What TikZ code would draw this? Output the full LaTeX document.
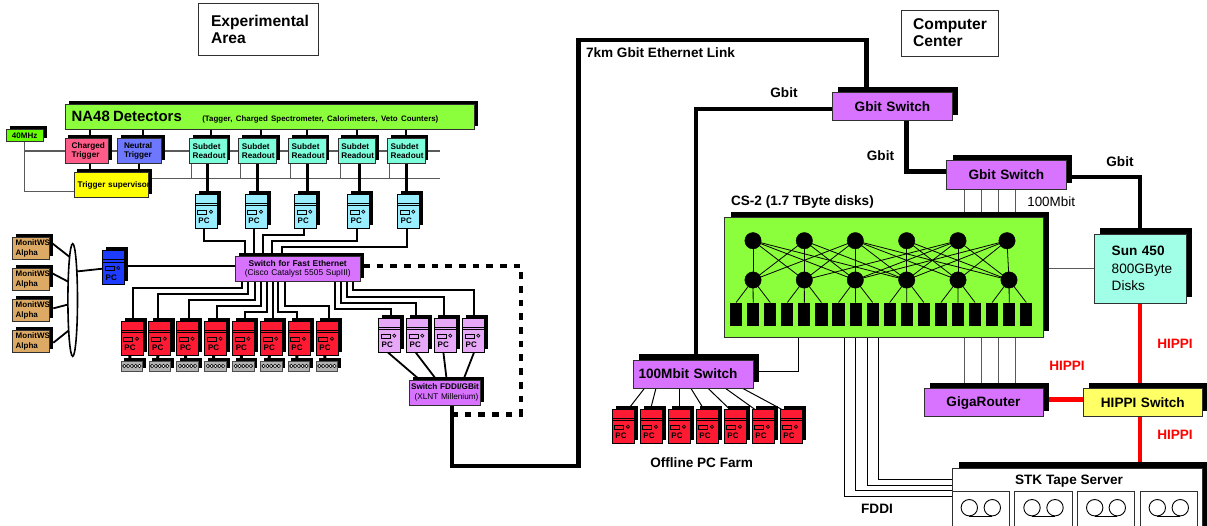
\documentclass[tikz,border=0pt]{standalone}
\usepackage{fontspec}
\setmainfont{Liberation Sans}
\usetikzlibrary{calc}
\pgfdeclarelayer{background}
\pgfsetlayers{background,main}
\definecolor{cpurple}{HTML}{D873FF}
\definecolor{cgreen}{HTML}{8CFF3C}
\definecolor{cgreenb}{HTML}{66FF00}
\definecolor{cpink}{HTML}{FF5C8A}
\definecolor{cblue}{HTML}{6E78FF}
\definecolor{cteal}{HTML}{7DFFDC}
\definecolor{csun}{HTML}{A0FFE6}
\definecolor{cyel}{HTML}{FFFF00}
\definecolor{chip}{HTML}{FFFF66}
\definecolor{ccyan}{HTML}{99EEFF}
\definecolor{cred}{HTML}{FF1A33}
\definecolor{cdblue}{HTML}{1E3CFF}
\definecolor{clil}{HTML}{E8A8F8}
\definecolor{ctan}{HTML}{DDAA66}
\definecolor{cline}{HTML}{303030}
\definecolor{cgrey}{HTML}{5A5A5A}
\newcommand\fz[3]{\fontsize{#1}{#2}\selectfont#3}
\newcommand\hs[1]{\hspace*{#1pt}}
\tikzset{
  x=1pt,y=-1pt,
  boxnode/.style={draw=cline,line width=.9pt,inner sep=0pt,outer sep=0pt,text=black},
  bigtext/.style={font=\fz{13.6}{15}\bfseries,align=center},
  smalltext/.style={font=\fz{8.2}{9.5}\bfseries,align=left},
  swtext/.style={font=\fz{8.4}{9.4}{},align=center},
  lbl/.style={inner sep=0pt,outer sep=0pt,font=\fz{13.6}{15}\bfseries},
  redlbl/.style={lbl,text=red},
  thicklink/.style={line width=4.5pt,black,line join=miter},
  redlink/.style={line width=4.4pt,red},
  medlink/.style={line width=1.8pt,black},
  thinlink/.style={line width=1pt,black},
  greylink/.style={line width=1pt,cgrey},
  busline/.style={line width=1.5pt,cgrey},
  tap/.style={line width=2pt,black},
  pctap/.style={line width=3pt,black},
  hubdot/.style={circle,fill=black,draw=black,inner sep=0pt,minimum size=16.4pt},
  diskbar/.style={rectangle,fill=black,inner sep=0pt,minimum width=12.2pt,minimum height=23.4pt},
  reel/.style={circle,draw=black,line width=.9pt,inner sep=0pt,minimum size=16.4pt},
}
% [options] name x1 y1 x2 y2 shadow text
\newcommand\bx[8][]{%
  \pgfmathsetmacro\bxw{#5-#3}\pgfmathsetmacro\bxh{#6-#4}%
  \pgfmathsetmacro\bxc{(#3+#5)/2}\pgfmathsetmacro\byc{(#4+#6)/2}%
  \fill[black] ({#3+#7},{#4-#7}) rectangle ({#5+#7},{#6-#7});%
  \node[boxnode,text width=\bxw pt,minimum height=\bxh pt,#1] (#2) at (\bxc,\byc) {#8};%
}
% name x y colour
\newcommand\pcbox[4]{%
  \bx[fill=#4,line width=.8pt,draw=black]{#1}{#2}{#3}{#2+22}{#3+34}{3.8}{}%
  \draw[black,line width=.7pt] (#2,#3+8.8) -- (#2+22,#3+8.8) (#2,#3+11.2) -- (#2+22,#3+11.2);%
  \draw[black,line width=.7pt] (#2+2.7,#3+15.7) rectangle (#2+11.7,#3+19.5);%
  \draw[black,line width=.7pt] (#2+16,#3+17.2) circle[radius=1.6];%
  \node[inner sep=0pt,font=\fz{8}{9}\bfseries] (#1t) at (#2+9,#3+26.6) {PC};%
}
% name x y
\newcommand\kbbox[3]{%
  \bx[fill=black!30,line width=.6pt,draw=black!70]{#1}{#2}{#3}{#2+21.7}{#3+10}{3.2}{}%
  \foreach \kk in {0,...,4} {\draw[black,fill=white,line width=.6pt] (#2+3.3+\kk*3.8,#3+5) circle[radius=1.7];}%
}
\begin{document}
\begin{tikzpicture}
\path[use as bounding box] (0,0) rectangle (1207,525);
\clip (0,0) rectangle (1207,525);

% titles
\node[draw=cline,line width=1pt,inner sep=0pt,text width=119.5pt,minimum height=51.5pt,align=left,font=\fz{15.6}{17}\bfseries] (titleA) at (258.25,29.25) {\hs{12.5}Experimental\\\hs{12.5}Area};
\node[draw=cline,line width=1pt,inner sep=0pt,text width=96.3pt,minimum height=46pt,align=left,font=\fz{15.6}{17}\bfseries] (titleB) at (949.85,33) {\hs{11.5}Computer\\\hs{11.5}Center};

% detectors row
\bx[fill=cgreen,align=left]{det}{65}{104.3}{474}{129.3}{3.7}{\hs{6.7}{\fz{14.9}{16}\bfseries NA48 Detectors}\hspace{20.5pt}{\fz{7.9}{10}\bfseries (Tagger, Charged Spectrometer, Calorimeters, Veto Counters)}}
\bx[fill=cgreenb,font=\fz{8}{9}\bfseries,align=center]{clk}{6}{129.3}{43.3}{141.7}{3.5}{40MHz}
\bx[fill=cpink,smalltext]{chg}{65}{138.7}{108.7}{163.3}{3.4}{\hs{6.7}Charged\\\hs{6.7}Trigger}
\bx[fill=cblue,smalltext]{neu}{117.3}{138.7}{161.7}{163.3}{3.4}{\hs{6.7}Neutral\\\hs{6.7}Trigger}
\foreach \nm/\xx in {1/189.3,2/238.5,3/288.3,4/338,5/387.3}{
  \bx[fill=cteal,smalltext]{sd\nm}{\xx}{138.7}{\xx+37.7}{163.3}{3.4}{\hs{3.4}Subdet\\\hs{3.4}Readout}
}
\bx[fill=cyel,smalltext]{sup}{74}{172.7}{148.7}{197.3}{3.4}{\hs{3.7}\mbox{Trigger supervisor}}
\coordinate (busAs) at (24.3,151);
\coordinate (busA) at (440,151);
\coordinate (busBs) at (150,178.7);
\coordinate (busB) at (440,178.7);

% readout PCs
\pcbox{p1}{195}{194.5}{ccyan}
\pcbox{p2}{245}{194.5}{ccyan}
\pcbox{p3}{294.3}{194.5}{ccyan}
\pcbox{p4}{347.3}{194.5}{ccyan}
\pcbox{p5}{397.3}{194.5}{ccyan}

% monitoring
\foreach \nm/\yy in {1/237.7,2/268.7,3/299.7,4/330.7}{
  \bx[fill=ctan,smalltext,font=\fz{8}{9.4}\bfseries]{mw\nm}{12.3}{\yy}{49.3}{\yy+21.7}{3.3}{\hs{3.4}MonitWS\\\hs{3.4}Alpha}
}
\draw[black,line width=1.6pt,fill=white] (72.7,300) ellipse[x radius=4.8,y radius=56.3];
\coordinate (ell) at (72.7,300);
\pcbox{bp}{102.3}{250.7}{cdblue}

% main switch
\bx[fill=cpurple,swtext]{swE}{235.5}{256.5}{360}{281.2}{3.6}{\textbf{Switch for Fast Ethernet}\\(Cisco Catalyst 5505 SupIII)}

% red PCs
\foreach \nm/\xx in {1/121,2/148.8,3/176.6,4/204.6,5/232.4,6/260.3,7/288,8/316}{
  \pcbox{r\nm}{\xx}{321.5}{cred}
  \kbbox{k\nm}{\xx}{361}
}
% lilac PCs
\pcbox{l1}{378.3}{318.5}{clil}
\pcbox{l2}{406.3}{318.5}{clil}
\pcbox{l3}{434.3}{318.5}{clil}
\pcbox{l4}{462.3}{318.5}{clil}
\bx[fill=cpurple,swtext,font=\fz{8.2}{9.4}{}]{swF}{409.3}{380}{480.7}{405}{3.5}{\textbf{Switch FDDI/GBit}\\\hspace*{3pt}(XLNT Millenium)}

% computer centre
\bx[fill=cpurple,bigtext]{g1}{832.5}{92.3}{952.5}{120.5}{5.8}{Gbit Switch}
\bx[fill=cpurple,bigtext]{g2}{946.7}{160.7}{1066}{189}{5.8}{Gbit Switch}
\bx[fill=cpurple,bigtext]{m1}{633}{360}{753}{388}{5.8}{\hspace*{-10pt}100Mbit Switch}
\bx[fill=cgreen]{cs}{724.7}{217.7}{1043}{337}{5.8}{}
\bx[fill=csun,align=left,font=\fz{13.6}{17.2}{}]{sun}{1094}{234}{1186}{303}{5.8}{\hs{17.7}\textbf{Sun 450}\\\hs{17.7}800GByte\\\hs{17.7}Disks}
\bx[fill=cpurple,bigtext]{gr}{924}{388.7}{1043}{416.7}{5.8}{GigaRouter}
\bx[fill=chip,bigtext]{hs}{1083}{388.7}{1202.7}{416.7}{5.8}{HIPPI Switch}

% tape server
\bx[fill=white]{tp}{952.7}{468}{1202.7}{535}{5.8}{}
\node[lbl] (tpt) at (1069,480.7) {STK Tape Server};
\foreach \nm/\xa/\xb/\ra/\rb in {1/952.7/1009/969.3/992.3,2/1014.7/1072/1032/1055,3/1077/1134/1094.7/1117.3,4/1140/1197/1157.3/1180.3}{
  \draw[cline,line width=.9pt,fill=white] (\xa,491) rectangle (\xb,535);
  \node[reel] (ra\nm) at (\ra,507.7) {};
  \node[reel] (rb\nm) at (\rb,507.7) {};
  \draw[black,line width=.9pt] (ra\nm.south) -- (rb\nm.south);
}

% CS-2 fabric
\foreach \i/\xx in {1/753,2/804.3,3/855.3,4/906.7,5/958,6/1007}{\node[hubdot] (t\i) at (\xx,240.7) {};}
\foreach \i/\xx in {1/753,2/804.3,3/855.3,4/906.7,5/958,6/1009}{\node[hubdot] (b\i) at (\xx,280) {};}
\foreach \i in {1,...,18}{\node[diskbar] (d\i) at ({736.1+17.07*(\i-1)},314.4) {};}
\foreach \a/\blist in {1/{1,2,3,4},2/{1,2,3,4},3/{1,2,3,4,5,6},4/{4,5,6},5/{2,3,4,5,6},6/{3,4,5,6}}{
  \foreach \b in \blist {\draw[black,line width=.8pt] (t\a.center) -- (b\b.center);}
}
\foreach \b/\da/\db/\dc in {1/1/2/3,2/4/5/6,3/7/8/9,4/10/11/12,5/13/14/15,6/16/17/18}{
  \draw[black,line width=.8pt] (b\b.center) -- (d\da.north) (b\b.center) -- (d\db.north) (b\b.center) -- (d\dc.north);
}

% offline farm
\foreach \nm/\xx in {1/612,2/640,3/668,4/696,5/724,6/752,7/780}{
  \pcbox{o\nm}{\xx}{409.5}{cred}
}

% labels
\node[lbl,anchor=west] (lab7) at (586,53) {7km Gbit Ethernet Link};
\node[lbl] (labg1) at (784,93) {Gbit};
\node[lbl] (labg2) at (880.5,156) {Gbit};
\node[lbl] (labg3) at (1120,161.7) {Gbit};
\node[lbl,font=\fz{13.4}{15}{},anchor=west] (lab100) at (1027.3,201.7) {100Mbit};
\node[lbl,anchor=west] (labcs) at (731,201.7) {CS-2 (1.7 TByte disks)};
\node[lbl] (labfarm) at (701.7,463) {Offline PC Farm};
\node[lbl] (labfd) at (877,509) {FDDI};
\node[redlbl] (labh1) at (1175,344) {HIPPI};
\node[redlbl] (labh2) at (1067,366) {HIPPI};
\node[redlbl] (labh3) at (1175,435) {HIPPI};

\begin{pgfonlayer}{background}
\fill[white] (0,0) rectangle (1207,525);
% buses
\draw[busline] (busAs) -- (busA);
\draw[busline] (busBs) -- (busB);
\draw[line width=1pt,cgrey] ([xshift=18.3pt]clk.south west) |- (sup.west |- 0,191);
\foreach \nm in {1,...,5}{
  \draw[line width=1pt,cgrey] ([xshift=2.4pt]sd\nm.south west) -- ++(0,15.4);
}
% taps
\draw[tap] (chg.north -| 90,0) -- (det.south -| 90,0);
\draw[tap] (neu.north -| 142.7,0) -- (det.south -| 142.7,0);
\draw[tap] (sd1.north -| 210.7,0) -- (det.south -| 210.7,0);
\draw[tap] (sd2.north -| 260.5,0) -- (det.south -| 260.5,0);
\draw[tap] (sd3.north -| 307,0) -- (det.south -| 307,0);
\draw[tap] (sd4.north -| 356.7,0) -- (det.south -| 356.7,0);
\draw[tap] (sd5.north -| 406.3,0) -- (det.south -| 406.3,0);
\draw[tap] (chg.south -| 89.7,0) -- (sup.north -| 89.7,0);
\draw[tap] (neu.south -| 139.3,0) -- (sup.north -| 139.3,0);
\draw[pctap] (sd1.south -| 207.3,0) -- (p1.north -| 207.3,0);
\draw[pctap] (sd2.south -| 257.3,0) -- (p2.north -| 257.3,0);
\draw[pctap] (sd3.south -| 307.3,0) -- (p3.north -| 307.3,0);
\draw[pctap] (sd4.south -| 359.3,0) -- (p4.north -| 359.3,0);
\draw[pctap] (sd5.south -| 406.3,0) -- (p5.north -| 406.3,0);
% readout PCs to switch
\draw[medlink] ([xshift=-2pt]p1.south) -- ++(0,12.2) -| ([xshift=9.5pt]swE.north west);
\draw[medlink] (p2.south -| 254,0) -- (swE.north -| 254,0);
\draw[medlink] ([xshift=-1pt]p3.south) -- ++(0,6.5) -| ([xshift=27.8pt]swE.north west);
\draw[medlink] ([xshift=-1.6pt]p4.south) -- ++(0,12.2) -| ([xshift=36.8pt]swE.north west);
\draw[medlink] ([xshift=-1.6pt]p5.south) -- ++(0,18.8) -| ([xshift=46.2pt]swE.north west);
% switch to red PCs
\draw[medlink] ([xshift=1.3pt]r1.north) -- ++(0,-33.8) -| ([xshift=6.2pt]swE.south west);
\draw[medlink] ([xshift=-1.5pt]r2.north) -- ++(0,-27.5) -| ([xshift=12.8pt]swE.south west);
\draw[medlink] (r3.north -| 189,0) -- ++(0,-21.5) -| ([xshift=19.5pt]swE.south west);
\draw[medlink] (r4.north -| 216.7,0) -- ++(0,-15.5) -| ([xshift=25.2pt]swE.south west);
\draw[medlink] (r5.north -| 245,0) -- ++(0,-9.2) -| ([xshift=31.8pt]swE.south west);
\draw[medlink] (r6.north -| 273.3,0) -- (swE.south -| 273.3,0);
\draw[medlink] (r7.north -| 297.3,0) -- ++(0,-9.8) -| ([xshift=42.8pt]swE.south west);
\draw[medlink] (r8.north -| 329,0) -- ++(0,-15.8) -| ([xshift=49.5pt]swE.south west);
% switch to lilac PCs
\draw[medlink] (l1.north -| 391,0) -- ++(0,-9.5) -| ([xshift=99.5pt]swE.south west);
\draw[medlink] (l2.north -| 416,0) -- ++(0,-15.8) -| ([xshift=105.5pt]swE.south west);
\draw[medlink] (l3.north -| 444,0) -- ++(0,-21.8) -| ([xshift=111.8pt]swE.south west);
\draw[medlink] (l4.north -| 474,0) -- ++(0,-28.2) -| ([xshift=117.8pt]swE.south west);
% lilac PCs to FDDI switch
\draw[medlink] ([xshift=-1.3pt]l1.south) -- ([xshift=10.7pt]swF.north west);
\draw[medlink] ([xshift=-1.6pt]l2.south) -- ([xshift=27.4pt]swF.north west);
\draw[medlink] ([xshift=-1.9pt]l3.south) -- ([xshift=37.4pt]swF.north west);
\draw[medlink] ([xshift=.7pt]l4.south) -- ([xshift=54pt]swF.north west);
% PC keyboards
\foreach \nm in {1,...,8}{\draw[line width=3pt,black] ([xshift=-2pt]r\nm.south) -- ([xshift=-2pt]k\nm.north);}
% monitoring links
\draw[medlink] ([yshift=5.2pt,xshift=3pt]mw1.east) -- (ell |- 0,259.3);
\draw[medlink] ([yshift=6.2pt,xshift=3pt]mw2.east) -- (ell |- 0,284);
\draw[medlink] ([yshift=2.2pt,xshift=4pt]mw3.east) -- (ell |- 0,303.3);
\draw[medlink] ([yshift=-1.2pt,xshift=4pt]mw4.east) -- (ell |- 0,327.3);
\draw[medlink] (ell |- 0,271.9) -- (bp.west |- 0,268.7);
\draw[medlink] (bp.east |- 0,265.7) -- (swE.west |- 0,265.7);
% dashed backup path
\draw[line width=4.4pt,black,dash pattern=on 6.7pt off 7pt,dash phase=10.7pt] ([yshift=3pt]swE.east) -| ([yshift=-9.3pt,xshift=40.3pt]swF.south east) -- ([yshift=-9.3pt,xshift=-28.7pt]swF.south east);
% long-distance link
\coordinate (linkA) at (452,466);
\coordinate (linkB) at (578.3,39.8);
\draw[thicklink] (swF.south -| 452,0) -- (linkA) -| (linkB) -| (g1.north -| 866.6,0);
\draw[thicklink] (g1.west |- 0,109) -| (m1.north -| 696,0);
\draw[thicklink] (g1.south -| 906.7,0) |- (g2.west |- 0,171.7);
\draw[thicklink] (g2.east |- 0,177) -| (sun.north -| 1140,0);
% 100 Mbit groups
\foreach \xx in {964,981,998,1015}{
  \draw[greylink] (g2.south -| \xx,0) -- (cs.north -| \xx,0);
  \draw[greylink] (cs.south -| \xx,0) -- (gr.north -| \xx,0);
}
\draw[greylink] (sun.west |- 0,268.7) -- (cs.east |- 0,268.7);
\draw[greylink,black] (cs.south -| 798.7,0) |- (m1.east |- 0,371.8);
% HIPPI
\draw[redlink] (sun.south -| 1140,0) -- (hs.north -| 1140,0);
\draw[redlink] (gr.east |- 0,399.5) -- (hs.west |- 0,399.5);
\draw[redlink] (hs.south -| 1140,0) -- (tp.north -| 1140,0);
% FDDI
\draw[thinlink] (cs.south -| 844.3,0) |- (tp.west |- 0,496);
\draw[thinlink] (cs.south -| 855.7,0) |- (tp.west |- 0,490.7);
\draw[thinlink] (cs.south -| 867,0) |- (tp.west |- 0,485);
\draw[thinlink] (cs.south -| 878.3,0) |- (tp.west |- 0,479.3);
% farm
\draw[thinlink] ([xshift=11.7pt]m1.south west) -- ([xshift=5pt]o1.north);
\draw[thinlink] ([xshift=23pt]m1.south west) -- ([xshift=-.5pt]o2.north);
\draw[thinlink] ([xshift=46pt]m1.south west) -- (o3.north -| 679,0);
\draw[thinlink] ([xshift=57.7pt]m1.south west) -- ([xshift=-3pt]o4.north);
\draw[thinlink] ([xshift=74.7pt]m1.south west) -- ([xshift=-5pt]o5.north);
\draw[thinlink] ([xshift=92pt]m1.south west) -- ([xshift=-8pt]o6.north);
\draw[thinlink] ([xshift=109pt]m1.south west) -- ([xshift=-9pt]o7.north);
\end{pgfonlayer}
\end{tikzpicture}
\end{document}
